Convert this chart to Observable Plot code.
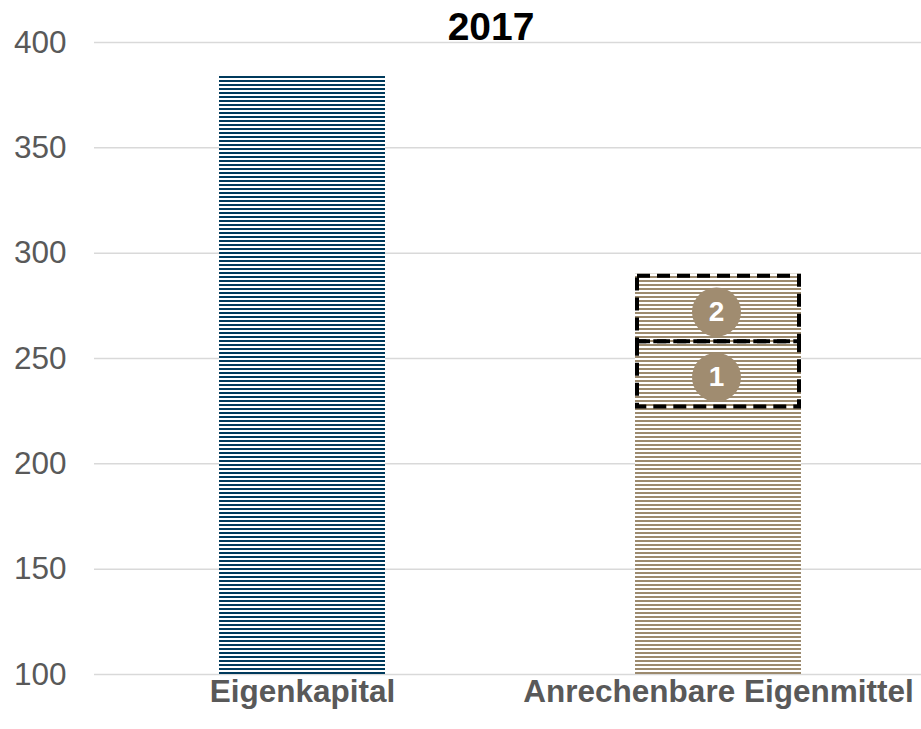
<!DOCTYPE html>
<html><head><meta charset="utf-8">
<script src="https://cdn.jsdelivr.net/npm/d3@7"></script>
<script src="https://cdn.jsdelivr.net/npm/@observablehq/plot@0.6"></script>
<style>body{margin:0;background:#fff;overflow:hidden}</style>
</head><body><div id="chart"></div>
<script>
const title = "2017";
const categories = ["Eigenkapital", "Anrechenbare Eigenmittel"];
const values = [384, 290];
const segmentLabels = ["1", "2"];
const segmentLow = [227, 258];
const segmentHigh = [258, 289];
const yTicks = [100, 150, 200, 250, 300, 350, 400];

const bars = categories.map((c, i) => ({cat: c, value: values[i]}));
const segments = segmentLabels.map((l, i) => ({cat: categories[1], label: l, low: segmentLow[i], high: segmentHigh[i]}));

const plot = Plot.plot({
  width: 921, height: 729,
  marginTop: 42, marginBottom: 55, marginLeft: 94, marginRight: 0,
  style: {fontFamily: "'Liberation Sans', Arial, sans-serif", background: "#fff"},
  x: {domain: categories, range: [94, 926], paddingInner: 0.6, paddingOuter: 0.3, label: null},
  y: {domain: [100, 400], label: null},
  marks: [
    Plot.ruleY(yTicks, {stroke: "#d9d9d9", strokeWidth: 1.5}),
    Plot.barY(bars.filter((d, i) => i === 0), {x: "cat", y1: 100, y2: "value", fill: "url(#stripeBlue)"}),
    Plot.barY(bars.filter((d, i) => i === 1), {x: "cat", y1: 100, y2: "value", fill: "url(#stripeTan)"}),
    Plot.barY(segments, {x: "cat", y1: "low", y2: "high", fill: "none", stroke: "black", strokeWidth: 4, strokeDasharray: "13,7", insetLeft: 2, insetRight: 2}),
    Plot.dot(segments, {x: "cat", y: d => (d.low + d.high) / 2, r: 24.5, fill: "#a08c70", dx: -2, dy: 3}),
    Plot.text(segments, {x: "cat", y: d => (d.low + d.high) / 2, text: "label", fill: "white", fontSize: 28, fontWeight: "bold", dx: -2, dy: 3}),
    Plot.axisY({ticks: yTicks, tickSize: 0, tickPadding: 28, fontSize: 31.5, color: "#595959", label: null}),
    Plot.axisX({tickSize: 0, tickPadding: 5, fontSize: 31.5, fontWeight: "bold", color: "#595959", label: null}),
    Plot.text([title], {frameAnchor: "top", lineAnchor: "middle", dy: -15, dx: -17, fontSize: 39, fontWeight: "bold", fill: "black"})
  ]
});

const svg = d3.select(plot);
const defs = svg.insert("defs", ":first-child");
const p1 = defs.append("pattern").attr("id", "stripeBlue").attr("patternUnits", "userSpaceOnUse").attr("width", 8).attr("height", 4);
p1.append("rect").attr("width", 8).attr("height", 4).attr("fill", "white");
p1.append("rect").attr("width", 8).attr("height", 2).attr("fill", "#003a5c");
const p2 = defs.append("pattern").attr("id", "stripeTan").attr("patternUnits", "userSpaceOnUse").attr("width", 8).attr("height", 4);
p2.append("rect").attr("width", 8).attr("height", 4).attr("fill", "white");
p2.append("rect").attr("width", 8).attr("height", 2).attr("fill", "#9c8a6e");

document.getElementById("chart").appendChild(plot);
</script>
</body></html>
